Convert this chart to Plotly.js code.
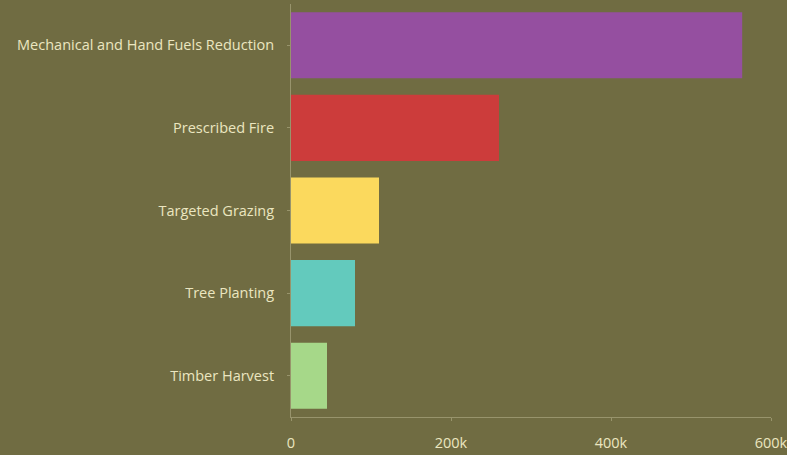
<!DOCTYPE html>
<html><head><meta charset="utf-8">
<script src="https://cdn.plot.ly/plotly-3.0.1.min.js"></script>
<style>html,body{margin:0;padding:0;background:#706c42;}#c{width:787px;height:455px;}</style>
</head><body><div id="c"></div>
<script>
const categories = ["Mechanical and Hand Fuels Reduction","Prescribed Fire","Targeted Grazing","Tree Planting","Timber Harvest"];
const values = [564000, 260000, 110000, 80000, 45000];
const colors = ["#954fa0","#cc3c3b","#fbd95d","#63cabd","#a6d889"];
const tickVals = [0, 200000, 400000, 600000];
const tickText = ["0","200k","400k","600k"];

Plotly.newPlot('c', [{
  type: 'bar', orientation: 'h',
  y: categories, x: values,
  marker: {color: colors},
  hoverinfo: 'none'
}], {
  width: 787, height: 455,
  paper_bgcolor: '#706c42', plot_bgcolor: '#706c42',
  margin: {l: 291, r: 16, t: 4, b: 38},
  bargap: 0.2,
  showlegend: false,
  font: {family: '"Open Sans", sans-serif', size: 14, color: '#ebe6c0'},
  xaxis: {range: [0, 600000], tickvals: tickVals, ticktext: tickText,
          showgrid: false, zeroline: false, showline: true, linecolor: '#98946c', linewidth: 1,
          ticks: 'outside', ticklen: 3, tickcolor: '#98946c', ticklabelstandoff: 10,
          ticklabeloverflow: 'allow', tickfont: {size: 14.5, color: '#ebe6c0'}},
  yaxis: {autorange: 'reversed', showgrid: false, zeroline: false, showline: true,
          linecolor: '#98946c', linewidth: 1, ticks: 'outside', ticklen: 3, tickcolor: '#98946c',
          ticklabelstandoff: 10, tickfont: {size: 14.5, color: '#ebe6c0'}}
}, {displayModeBar: false, staticPlot: true});
</script></body></html>
